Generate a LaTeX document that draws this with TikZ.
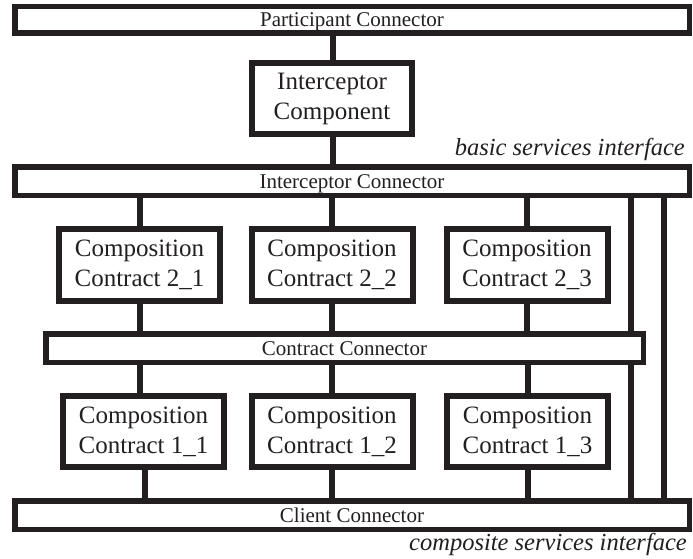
\documentclass[tikz,border=0pt]{standalone}
\usepackage{fontspec}
\setmainfont{Liberation Serif}
\definecolor{ink}{RGB}{35,31,32}
\begin{document}
\begin{tikzpicture}[x=1pt,y=-1pt,
  box/.style={draw=ink, line width=6pt, fill=white, minimum width=161pt,
    minimum height=72pt, inner sep=0pt, align=center, text=ink,
    font=\fontsize{25}{30}\selectfont},
  bar/.style={draw=ink, line width=5.5pt, fill=white, minimum height=28.5pt,
    inner sep=0pt, text=ink, text height=14pt, text depth=0pt,
    font=\fontsize{21}{24}\selectfont},
  wire/.style={draw=ink, line width=6pt},
  intowire/.style={wire, shorten >=-3.5pt},
  iface/.style={inner sep=0pt, text=ink, font=\itshape\fontsize{24.5}{29}\selectfont}
]
\useasboundingbox (0,0) rectangle (693,559);

% connectors (bars) and components (boxes)
\node[bar, minimum width=674.5pt, minimum height=26.5pt] (pc) at (352,20) {Participant Connector};
\node[box, minimum width=160pt, minimum height=71pt] (icomp) at (332,98.5) {Interceptor\\Component};
\node[bar, minimum width=674.5pt] (icon) at (352,181) {Interceptor Connector};

\node[box] (c21) at (139.5,265) {Composition\\Contract 2\_1};
\node[box] (c22) at (332,265)   {Composition\\Contract 2\_2};
\node[box] (c23) at (527,265)   {Composition\\Contract 2\_3};

\node[bar, minimum width=597.5pt] (ccon) at (344.5,348) {Contract Connector};

\node[box, minimum height=71pt] (c11) at (143.5,431.5) {Composition\\Contract 1\_1};
\node[box, minimum height=71pt] (c12) at (332,431.5)   {Composition\\Contract 1\_2};
\node[box, minimum height=71pt] (c13) at (527.5,431.5) {Composition\\Contract 1\_3};

\node[bar, minimum width=674.5pt] (client) at (352,515) {Client Connector};

% interface labels
\node[iface, anchor=base east] (basiclbl) at (685,155) {basic services interface};
\node[iface, anchor=base east] (complbl) at (687,550) {composite services interface};

% wiring
\draw[intowire] ([xshift=1pt]icomp.north |- pc.south) -- ([xshift=1pt]icomp.north);
\draw[intowire] ([xshift=1pt]icomp.south) -- ([xshift=1pt]icomp.south |- icon.north);

\foreach \b in {c21,c22,c23}{
  \draw[wire] (\b.north |- icon.south) -- (\b.north);
  \draw[intowire] (\b.south) -- (\b.south |- ccon.north);
}

\draw[wire] ([xshift=-3.5pt]c11.north |- ccon.south) -- ([xshift=-3.5pt]c11.north);
\draw[intowire] ([xshift=1.5pt]c11.south) -- ([xshift=1.5pt]c11.south |- client.north);
\foreach \b in {c12,c13}{
  \draw[wire] (\b.north |- ccon.south) -- (\b.north);
  \draw[intowire] (\b.south) -- (\b.south |- client.north);
}

% direct links from the interceptor connector to the lower connectors
\coordinate (ra) at (630.5,0);
\coordinate (rb) at (664,0);
\draw[intowire] (ra |- icon.south) -- (ra |- ccon.north);
\draw[intowire] (ra |- ccon.south) -- (ra |- client.north);
\draw[intowire] (rb |- icon.south) -- (rb |- client.north);
\end{tikzpicture}
\end{document}
